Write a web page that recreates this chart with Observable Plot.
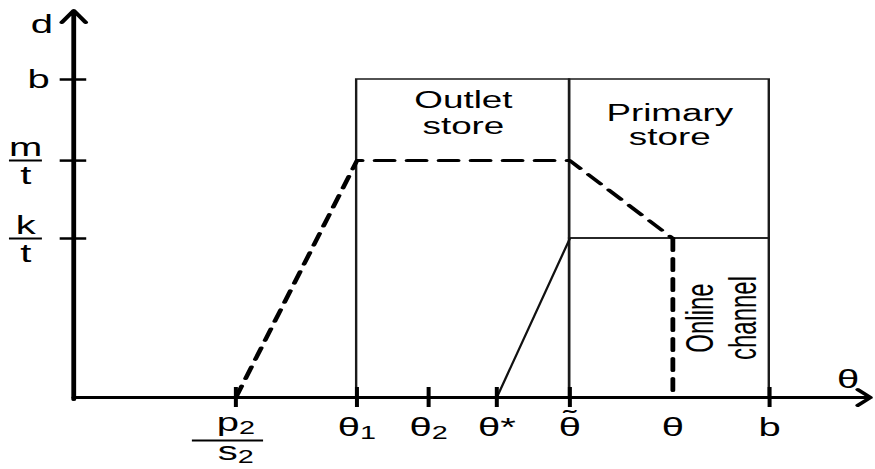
<!DOCTYPE html>
<html>
<head>
<meta charset="utf-8">
<script src="https://cdn.jsdelivr.net/npm/d3@7"></script>
<script src="https://cdn.jsdelivr.net/npm/@observablehq/plot@0.6"></script>
<style>
  html, body { margin: 0; padding: 0; background: #fff; }
  #chart svg { display: block; }
</style>
</head>
<body>
<div id="chart"></div>
<script>
// Consumer-type thresholds on the θ axis (as a share of b)
const thetaValues = [0.233, 0.407, 0.510, 0.608, 0.713, 0.861, 1.0];
const thetaLabels = ["p₂/s₂", "θ₁", "θ₂", "θ*", "θ\u0303", "θ", "b"];
const thetaTicked = [true, true, true, true, true, false, true];

// Levels on the d axis (as a share of b)
const dValues = [1.0, 0.745, 0.5];
const dLabels = ["b", "m/t", "k/t"];

// Where the two axis arrows end
const thetaAxisEnd = 1.145;
const dAxisEnd = 1.217;

// Channel regions
const regionNames = ["Outlet\nstore", "Primary\nstore", "Online\nchannel"];

const [p2s2, th1, th2, thStar, thTilde, thBar, bTheta] = thetaValues;
const [bD, mt, kt] = dValues;

const regions = [
  {name: regionNames[0], x1: th1, x2: thTilde, y1: 0, y2: bD},
  {name: regionNames[1], x1: thTilde, x2: bTheta, y1: kt, y2: bD},
  {name: regionNames[2], x1: thTilde, x2: bTheta, y1: 0, y2: kt}
];

// Dashed demand path and the solid switching line
const demandPath = [
  {part: "upper", theta: p2s2, d: 0},
  {part: "upper", theta: th1, d: mt},
  {part: "upper", theta: thTilde, d: mt},
  {part: "upper", theta: thBar, d: kt},
  {part: "drop", theta: thBar, d: kt},
  {part: "drop", theta: thBar, d: 0}
];
const switchLine = [
  {theta: thStar, d: 0},
  {theta: thTilde, d: kt}
];

// Tick tables: fractions split into numerator / denominator
const thetaTicks = thetaValues.map((v, i) => ({v, label: thetaLabels[i], ticked: thetaTicked[i]}));
const dTicks = dValues.map((v, i) => ({v, label: dLabels[i]}));
const split = t => ({v: t.v, num: t.label.split("/")[0], den: t.label.split("/")[1]});
const plainTheta = thetaTicks.filter(t => !t.label.includes("/"));
const fracTheta = thetaTicks.filter(t => t.label.includes("/")).map(split);
const plainD = dTicks.filter(t => !t.label.includes("/"));
const fracD = dTicks.filter(t => t.label.includes("/")).map(split);

// The figure is laid out in a narrow frame and then widened horizontally.
const W = 547, H = 469, OUT_W = 875;
const zero = () => 0;
const font = 25;

const svg = Plot.plot({
  width: W,
  height: H,
  marginLeft: 45.6,
  marginRight: 66.4,
  marginTop: 79,
  marginBottom: 72,
  x: {domain: [0, 1], axis: null},
  y: {domain: [0, 1], axis: null},
  style: {fontFamily: "'Liberation Sans', Arial, sans-serif", background: "white", color: "black"},
  marks: [
    // channel regions
    Plot.rect(regions, {x1: "x1", x2: "x2", y1: "y1", y2: "y2", fill: "none", stroke: "#1a1a1a", strokeWidth: 1.5}),
    Plot.line(switchLine, {x: "theta", y: "d", stroke: "#111", strokeWidth: 1.5}),
    Plot.line(demandPath, {x: "theta", y: "d", z: "part", stroke: "black", strokeWidth: 3, strokeDasharray: "12,8"}),

    // axes with arrow heads
    Plot.arrow([{x1: 0, y1: 0, x2: thetaAxisEnd, y2: 0}],
      {x1: "x1", y1: "y1", x2: "x2", y2: "y2", stroke: "black", strokeWidth: 3, headLength: 5.6, headAngle: 90}),
    Plot.arrow([{x1: 0, y1: 0, x2: 0, y2: dAxisEnd}],
      {x1: "x1", y1: "y1", x2: "x2", y2: "y2", stroke: "black", strokeWidth: 3, headLength: 7, headAngle: 64, insetStart: -2}),

    // tick marks
    Plot.ruleX(thetaTicks.filter(t => t.ticked), {x: "v", y1: zero, y2: zero, insetTop: -10, insetBottom: -10, stroke: "black", strokeWidth: 2.5}),
    Plot.ruleY(dTicks, {y: "v", x1: zero, x2: zero, insetLeft: -8.3, insetRight: -8.3, stroke: "black", strokeWidth: 2.5}),

    // θ tick labels
    Plot.text(plainTheta, {x: "v", y: zero, text: "label", dy: 38, lineAnchor: "bottom", fontSize: font}),
    Plot.text(fracTheta, {x: "v", y: zero, text: "num", dy: 33, lineAnchor: "bottom", fontSize: font}),
    Plot.text(fracTheta, {x: "v", y: zero, text: "den", dy: 62, lineAnchor: "bottom", fontSize: font}),
    Plot.ruleY(fracTheta, {y: zero, x1: "v", x2: "v", dy: 43, insetLeft: -27, insetRight: -17.5, stroke: "black", strokeWidth: 2}),

    // d tick labels
    Plot.text(plainD, {x: zero, y: "v", text: "label", dx: -22, fontSize: font}),
    Plot.text(fracD, {x: zero, y: "v", text: "num", dx: -30, dy: -5, lineAnchor: "bottom", fontSize: font}),
    Plot.text(fracD, {x: zero, y: "v", text: "den", dx: -30, dy: 23, lineAnchor: "bottom", fontSize: font}),
    Plot.ruleY(fracD, {y: "v", x1: zero, x2: zero, insetLeft: -40, insetRight: 19.4, stroke: "black", strokeWidth: 2}),

    // axis names
    Plot.text(["d"], {x: zero, y: () => dAxisEnd, text: d => d, dx: -20, dy: 23, lineAnchor: "bottom", fontSize: font}),
    Plot.text(["θ"], {x: () => thetaAxisEnd, y: zero, text: d => d, dx: -14, dy: -10, lineAnchor: "bottom", fontSize: font}),

    // region labels
    Plot.text([regions[0]], {x: r => (r.x1 + r.x2) / 2, y: "y2", text: "name", dy: 11, lineAnchor: "top", lineHeight: 1.1, fontSize: 23}),
    Plot.text([regions[1]], {x: r => (r.x1 + r.x2) / 2, y: "y2", text: "name", dy: 24, lineAnchor: "top", lineHeight: 1.06, fontSize: 23}),
    Plot.text([regions[2]], {x: r => (thBar + r.x2) / 2, y: r => (r.y1 + r.y2) / 2, text: "name", rotate: -90, lineHeight: 1.12, fontSize: 24})
  ]
});

// Typeset subscripts and the tilde accent inside each label
const NS = "http://www.w3.org/2000/svg";
const tspan = (text, attrs = {}) => {
  const s = document.createElementNS(NS, "tspan");
  s.textContent = text;
  for (const [k, v] of Object.entries(attrs)) s.setAttribute(k, v);
  return s;
};
svg.querySelectorAll("text").forEach(t => {
  if (t.querySelector("tspan")) return;
  const s = t.textContent;
  const sub = s.match(/^(.*?)([\u2080-\u2089]+)$/);
  if (sub) {
    const digits = Array.from(sub[2], c => String.fromCharCode(c.charCodeAt(0) - 0x2080 + 48)).join("");
    t.textContent = "";
    t.append(tspan(sub[1]), tspan(digits, {"font-size": "0.72em", dy: "0.22em"}));
  } else if (s.includes("\u0303")) {
    t.textContent = "";
    t.append(tspan(s.replace("\u0303", "")), tspan("˜", {dx: "-0.445em", dy: "-0.3em"}));
  }
});

svg.setAttribute("width", OUT_W);
svg.setAttribute("height", H);
svg.setAttribute("viewBox", `0 0 ${W} ${H}`);
svg.setAttribute("preserveAspectRatio", "none");
svg.style.width = OUT_W + "px";
svg.style.height = H + "px";
svg.style.maxWidth = "none";
document.getElementById("chart").appendChild(svg);
</script>
</body>
</html>
